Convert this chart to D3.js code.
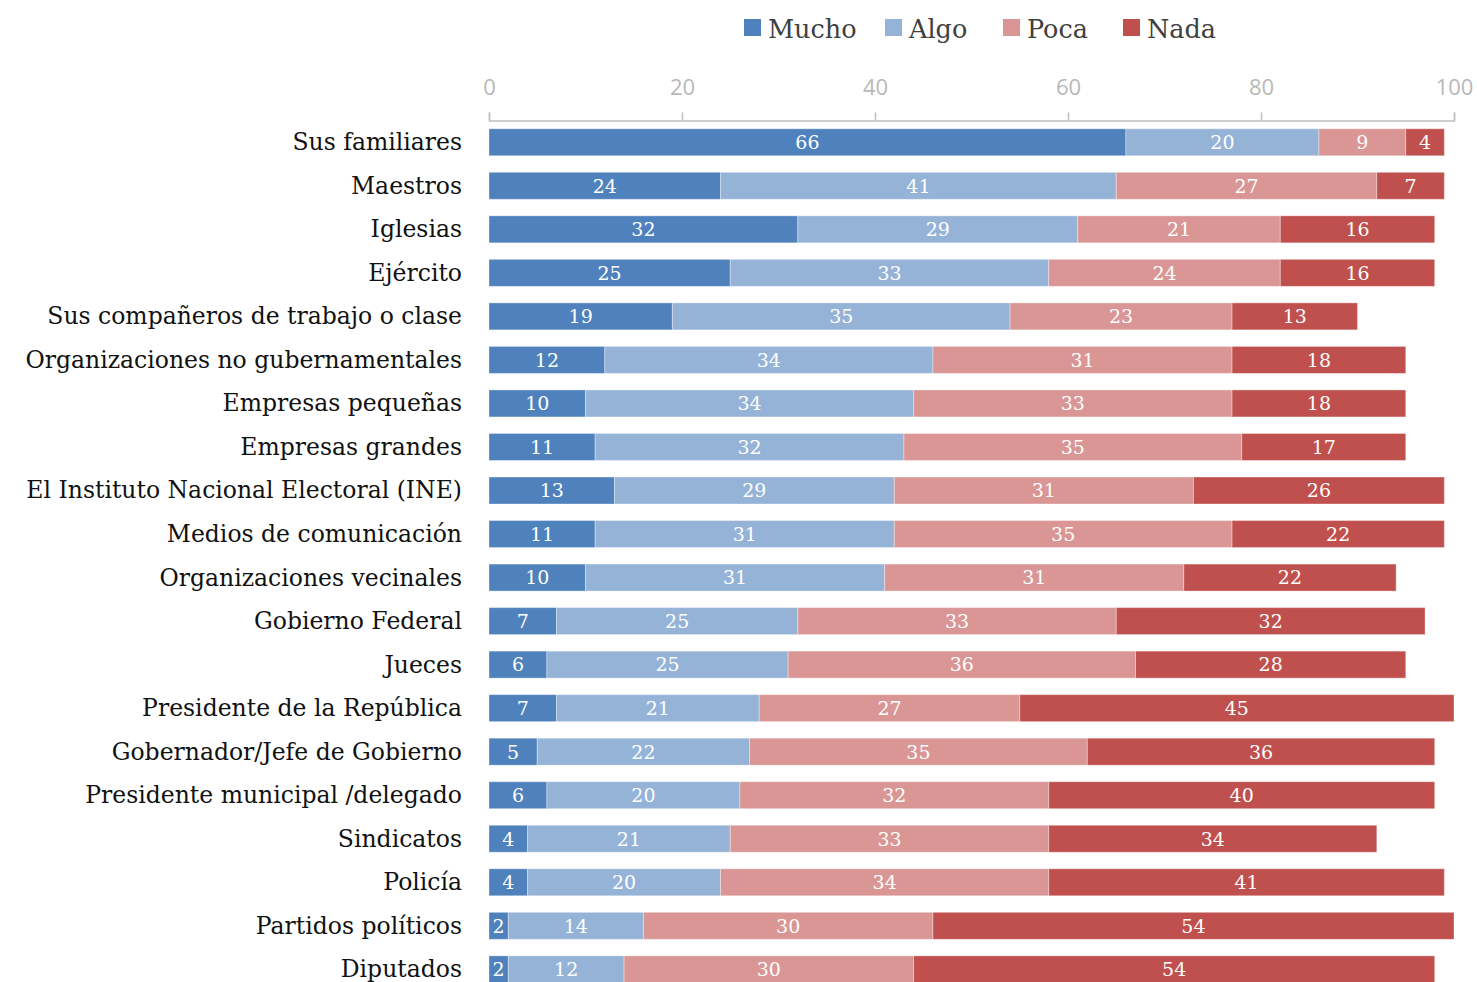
<!DOCTYPE html>
<html><head><meta charset="utf-8">
<script src="https://cdn.jsdelivr.net/npm/d3@7"></script>
<style>body{margin:0;background:#fff}svg{display:block}</style>
</head><body>
<script>
const categories = ["Sus familiares","Maestros","Iglesias","Ejército","Sus compañeros de trabajo o clase","Organizaciones no gubernamentales","Empresas pequeñas","Empresas grandes","El Instituto Nacional Electoral (INE)","Medios de comunicación","Organizaciones vecinales","Gobierno Federal","Jueces","Presidente de la República","Gobernador/Jefe de Gobierno","Presidente municipal /delegado","Sindicatos","Policía","Partidos políticos","Diputados"];
const seriesNames = ["Mucho","Algo","Poca","Nada"];
const mucho = [66,24,32,25,19,12,10,11,13,11,10,7,6,7,5,6,4,4,2,2];
const algo  = [20,41,29,33,35,34,34,32,29,31,31,25,25,21,22,20,21,20,14,12];
const poca  = [9,27,21,24,23,31,33,35,31,35,31,33,36,27,35,32,33,34,30,30];
const nada  = [4,7,16,16,13,18,18,17,26,22,22,32,28,45,36,40,34,41,54,54];
const xTicks = [0,20,40,60,80,100];
const colors = ["#4f81bd","#95b3d7","#d99694","#c0504d"];

const W = 1477, H = 982;
const svg = d3.select("body").append("svg").attr("width", W).attr("height", H);
const x = d3.scaleLinear().domain([0,100]).range([489, 1454]);
const y = d3.scaleBand().domain(categories).range([120.5, 120.5 + 20*43.53]).paddingInner(0.38).paddingOuter(0.19);

const rows = categories.map((c,i)=>({cat:c, vals:[mucho[i],algo[i],poca[i],nada[i]]}));
const stackData = rows.map(r=>({cat:r.cat, Mucho:r.vals[0], Algo:r.vals[1], Poca:r.vals[2], Nada:r.vals[3]}));
const stacked = d3.stack().keys(seriesNames)(stackData);

// axis
const ax = d3.axisTop(x).tickValues(xTicks).tickSize(8).tickPadding(18);
const axG = svg.append("g").attr("transform","translate(0,120.5)").call(ax);
axG.select(".domain").attr("stroke","#bfbfbf").attr("stroke-width",1.5);
axG.selectAll(".tick line").attr("stroke","#bfbfbf").attr("stroke-width",1.5);
axG.selectAll(".tick text").attr("fill","#b8b8b8").attr("font-family","'Open Sans', 'Liberation Sans', sans-serif").attr("font-size",22);

// bars
stacked.forEach((s,si)=>{
  const g = svg.append("g");
  g.selectAll("rect").data(s).join("rect")
    .attr("x", d=>x(d[0])).attr("width", d=>x(d[1])-x(d[0]))
    .attr("y", d=>y(d.data.cat)).attr("height", y.bandwidth())
    .attr("fill", colors[si]).attr("stroke","#ffffff").attr("stroke-opacity",0.35).attr("stroke-width",1);
  g.selectAll("text").data(s).join("text")
    .attr("x", d=>(x(d[0])+x(d[1]))/2).attr("y", d=>y(d.data.cat)+y.bandwidth()/2)
    .attr("dy","0.36em").attr("text-anchor","middle").attr("fill","#fff")
    .attr("font-family","'DejaVu Serif', serif").attr("font-size",19)
    .text(d=>d[1]-d[0]);
});

// category labels
svg.append("g").selectAll("text").data(categories).join("text")
  .attr("x", 462).attr("y", d=>y(d)+y.bandwidth()/2).attr("dy","0.34em")
  .attr("text-anchor","end").attr("fill","#111")
  .attr("font-family","'DejaVu Serif', serif").attr("font-size",23.5)
  .text(d=>d);

// legend
const legX = [744, 885, 1003, 1123];
const leg = svg.append("g");
seriesNames.forEach((n,i)=>{
  leg.append("rect").attr("x",legX[i]).attr("y",19).attr("width",17).attr("height",17).attr("fill",colors[i]);
  leg.append("text").attr("x",legX[i]+24).attr("y",38).attr("fill","#404040")
    .attr("font-family","'DejaVu Serif', serif").attr("font-size",25.5).text(n);
});
</script>
</body></html>
